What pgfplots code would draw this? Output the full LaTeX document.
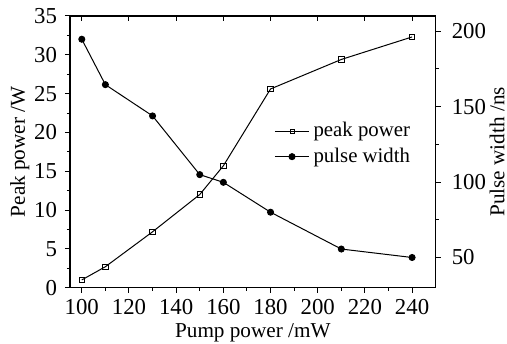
\documentclass[border=0pt]{standalone}
\usepackage{fontspec}
\setmainfont{Liberation Serif}
\usepackage{pgfplots}
\pgfplotsset{compat=1.18}
\begin{document}
\begin{tikzpicture}
\pgfplotsset{
 common/.style={
  scale only axis, width=182.85pt, height=135.85pt,
  xmin=95, xmax=250,
  /pgf/number format/assume math mode=true,
  tick label style={font=\fontsize{11.4}{13}\selectfont},
  label style={font=\fontsize{10.6}{12.5}\selectfont},
  axis line style={line width=0.6pt},
  major tick length=2.5pt, minor tick length=1.6pt,
  every tick/.style={black, line width=0.5pt},
 },
 peak/.style={black, line width=0.5pt, mark=square, mark size=1.4pt, mark options={solid, fill=white, line width=0.4pt}},
 pulse/.style={black, line width=0.5pt, mark=*, mark size=1.5pt, mark options={solid, fill=black}},
}
% top ticks (inward)
\begin{axis}[common, axis x line*=top, axis y line=none,
  ymin=0, ymax=1, xtick={100,120,...,240}, xticklabels={}, tick align=inside]
\end{axis}
\begin{axis}[common,
  ymin=0, ymax=35, ytick={0,5,...,35}, minor y tick num=1,
  xtick={100,120,...,240}, minor x tick num=1,
  xtick pos=bottom, ytick pos=left, tick align=outside,
  yticklabel style={xshift=-0.5pt},
  xlabel={Pump power /mW}, ylabel={Peak power /W},
  xlabel style={at={(axis description cs:0.5,-0.1667)}, anchor=center},
  ylabel style={at={(axis description cs:-0.137,0.5)}, anchor=center},
]
\addplot[peak] coordinates {(100,1.0) (110,2.7) (130,7.2) (150,12.0) (160,15.7) (180,25.6) (210,29.4) (240,32.3)};
\coordinate (BL) at (rel axis cs:-0.1914,-0.2072);
\coordinate (TR) at (rel axis cs:1.195,1.0589);
\end{axis}
\begin{axis}[common, axis x line=none, axis y line*=right,
  ymin=30, ymax=210, ytick={50,100,150,200}, minor y tick num=1, tick align=outside,
  yticklabel style={xshift=2pt},
  ylabel={Pulse width /ns},
  ylabel style={at={(axis description cs:1.168,0.5)}, anchor=center, rotate=0},
  legend style={draw=none, fill=none, at={(0.558,0.529)}, anchor=west,
    font=\fontsize{10.4}{12}\selectfont, row sep=0pt, inner sep=0pt},
  legend cell align=left,
]
\addlegendimage{peak, mark size=1pt}
\addlegendentry{peak power}
\addplot[pulse] coordinates {(100,194.6) (110,164.5) (130,143.8) (150,104.9) (160,99.8) (180,80.0) (210,55.6) (240,50.0)};
\addlegendentry{pulse width}
\end{axis}
\pgfresetboundingbox
\path[use as bounding box] (BL) rectangle (TR);
\end{tikzpicture}
\end{document}
